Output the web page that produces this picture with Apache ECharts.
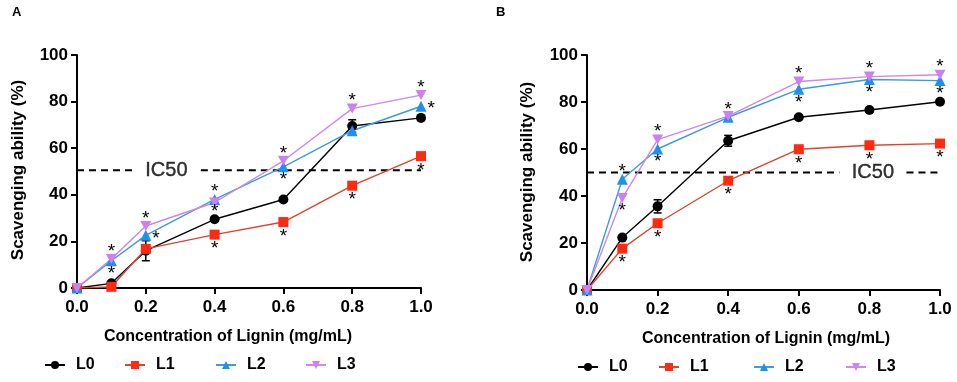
<!DOCTYPE html>
<html>
<head>
<meta charset="utf-8">
<script src="https://cdn.jsdelivr.net/npm/echarts@6/dist/echarts.min.js"></script>
<style>
html,body{margin:0;padding:0;background:#fff;}
#chart{width:957px;height:382px;}
</style>
</head>
<body>
<div id="chart"></div>
<script>
// ---- data ----
const concentrations = [0, 0.1, 0.2, 0.4, 0.6, 0.8, 1.0];
const xTicks = ['0.0', '0.2', '0.4', '0.6', '0.8', '1.0'];
const seriesNames = ['L0', 'L1', 'L2', 'L3'];

// Panel A
const A_L0 = [0, 2.0, 16.0, 29.5, 38.0, 69.5, 73.0];
const A_L1 = [0, 0.5, 16.8, 22.9, 28.3, 43.9, 56.6];
const A_L2 = [0, 11.7, 22.6, 38.0, 52.0, 67.5, 78.0];
const A_L3 = [0, 12.5, 26.6, 36.7, 54.6, 77.0, 82.8];
const A_L0_err = [0, 0.6, 4.3, 0.8, 0.8, 2.7, 0.5];
const A_L1_err = [0, 0, 1.5, 0.8, 1.5, 0.8, 0.5];
const A_stars_L0 = ['', '', '', 'top', '', '', ''];
const A_stars_L1 = ['', '', '', 'bottom', 'bottom', 'bottom', 'bottom'];
const A_stars_L2 = ['', 'bottom', 'right', 'top', 'bottom', '', 'right'];
const A_stars_L3 = ['', 'top', 'top', '', 'top', 'top', 'top'];
const A_ic50 = 50.5;

// Panel B
const B_L0 = [0, 22.3, 35.6, 63.5, 73.5, 76.6, 80.1];
const B_L1 = [0, 17.6, 28.4, 46.5, 59.9, 61.6, 62.3];
const B_L2 = [0, 47.1, 60.0, 73.5, 85.4, 89.6, 89.1];
const B_L3 = [0, 39.1, 64.0, 74.0, 88.7, 90.8, 91.6];
const B_L0_err = [0, 0.8, 2.8, 2.3, 0.8, 0.8, 0.8];
const B_L1_err = [0, 0.8, 0.8, 0.8, 0.8, 0.5, 0.5];
const B_stars_L0 = ['', '', '', '', '', '', ''];
const B_stars_L1 = ['', 'bottom', 'bottom', 'bottom', 'bottom', 'bottom', 'bottom'];
const B_stars_L2 = ['', 'top', 'bottom', 'top', 'bottom', 'bottom', 'bottom'];
const B_stars_L3 = ['', 'bottom', 'top', '', 'top', 'top', 'top'];
const B_ic50 = 50;

// ---- styles ----
const colors = {
  L0: {line: '#000000', mark: '#000000', symbol: 'circle', size: 10},
  L1: {line: '#e0432c', mark: '#ff2a10', symbol: 'rect', size: 10},
  L2: {line: '#3a9be0', mark: '#1e90f0', symbol: 'triangle', size: 11},
  L3: {line: '#cc88ee', mark: '#cc80f2', symbol: 'path://M0,0 L10,0 L5,9 Z', size: 11}
};
const FONT = 'Liberation Sans, Arial, sans-serif';

function starLabel(pos, big) {
  if (!pos) return {show: false};
  const base = {show: true, formatter: '*', color: '#000', fontSize: 19, fontFamily: FONT, fontWeight: 'normal'};
  if (pos === 'top') return Object.assign(base, {position: 'top', distance: -7});
  if (pos === 'bottom') return Object.assign(base, {position: 'bottom', distance: big ? 0 : -2});
  if (pos === 'right') return Object.assign(base, {position: 'right', distance: 1, offset: [0, 3]});
  return {show: false};
}

function lineSeries(name, vals, stars, idx) {
  const c = colors[name];
  return {
    type: 'line', name: name, xAxisIndex: idx, yAxisIndex: idx,
    symbol: c.symbol, symbolSize: c.symbol === 'rect' ? 10 : (name === 'L3' ? [11, 10] : c.size),
    lineStyle: {color: c.line, width: 1.4},
    itemStyle: {color: c.mark, borderWidth: 0},
    z: 3,
    data: vals.map((v, i) => ({value: [concentrations[i], v], label: starLabel(stars[i], name === 'L1')})),
    animation: false
  };
}

function errSeries(vals, errs, idx, color) {
  return {
    type: 'custom', xAxisIndex: idx, yAxisIndex: idx, z: 2, silent: true, animation: false,
    data: vals.map((v, i) => [concentrations[i], v, errs[i]]),
    renderItem: function (params, api) {
      const x = api.value(0), y = api.value(1), e = api.value(2);
      if (!e) return;
      const top = api.coord([x, y + e]);
      const bot = api.coord([x, y - e]);
      const w = 4;
      return {
        type: 'group',
        children: [
          {type: 'line', shape: {x1: top[0], y1: top[1], x2: bot[0], y2: bot[1]}, style: {stroke: color, lineWidth: 1.5}},
          {type: 'line', shape: {x1: top[0] - w, y1: top[1], x2: top[0] + w, y2: top[1]}, style: {stroke: color, lineWidth: 1.5}},
          {type: 'line', shape: {x1: bot[0] - w, y1: bot[1], x2: bot[0] + w, y2: bot[1]}, style: {stroke: color, lineWidth: 1.5}}
        ]
      };
    }
  };
}

function ic50Series(idx, y, gapStart, gapEnd, textX) {
  return [{
    type: 'line', xAxisIndex: idx, yAxisIndex: idx, symbol: 'none', silent: true, animation: false,
    lineStyle: {color: '#000', width: 2, type: [7, 5]}, z: 1,
    data: [[0, y], [gapStart, y], null, [gapEnd, y], [1.0, y]],
    connectNulls: false
  }, {
    type: 'scatter', xAxisIndex: idx, yAxisIndex: idx, symbolSize: 0, silent: true, animation: false,
    data: [[textX, y]],
    label: {show: true, position: 'inside', formatter: 'IC50', color: '#000', fontSize: 20, fontFamily: FONT,
      textBorderColor: '#000', textBorderWidth: 0.4}
  }];
}

function xAxis(idx) {
  return {
    type: 'value', gridIndex: idx, min: 0, max: 1.0, interval: 0.2,
    axisLine: {show: true, lineStyle: {color: '#000', width: 2}},
    axisTick: {show: true, length: 6, lineStyle: {color: '#000', width: 2}},
    splitLine: {show: false},
    axisLabel: {margin: 11, color: '#000', fontSize: 17, fontWeight: 'bold', fontFamily: FONT,
      formatter: v => xTicks[Math.round(v / 0.2)]}
  };
}
function yAxis(idx) {
  return {
    type: 'value', gridIndex: idx, min: 0, max: 100, interval: 20,
    axisLine: {show: true, lineStyle: {color: '#000', width: 2}},
    axisTick: {show: true, length: 6, lineStyle: {color: '#000', width: 2}},
    splitLine: {show: false},
    axisLabel: {margin: 9, color: '#000', fontSize: 17, fontWeight: 'bold', fontFamily: FONT}
  };
}

function legendItem(name, left, top) {
  return {
    data: [name], left: left, top: top, itemWidth: 20, itemHeight: 10, itemGap: 0, padding: 0,
    selectedMode: false,
    textStyle: {color: '#000', fontSize: 16, fontWeight: 'bold', fontFamily: FONT, padding: [0, 0, 0, 6]}
  };
}

const chart = echarts.init(document.getElementById('chart'), null, {renderer: 'canvas'});
const option = {
  backgroundColor: '#fff',
  animation: false,
  grid: [
    {left: 77, top: 55, width: 344, height: 233},
    {left: 587, top: 55, width: 353, height: 235}
  ],
  xAxis: [xAxis(0), xAxis(1)],
  yAxis: [yAxis(0), yAxis(1)],
  legend: [
    legendItem('L0', 44, 357), legendItem('L1', 124, 357), legendItem('L2', 215, 357), legendItem('L3', 305, 357),
    legendItem('L0', 577, 359), legendItem('L1', 658, 359), legendItem('L2', 753, 359), legendItem('L3', 845, 359)
  ],
  graphic: [
    {type: 'text', left: 12, top: 6, style: {text: 'A', font: 'bold 13px ' + FONT, fill: '#000'}},
    {type: 'text', left: 496, top: 6, style: {text: 'B', font: 'bold 13px ' + FONT, fill: '#000'}},
    {type: 'text', x: 18, y: 170, rotation: Math.PI / 2, style: {text: 'Scavenging ability (%)', font: 'bold 17px ' + FONT, fill: '#000', align: 'center', verticalAlign: 'middle'}},
    {type: 'text', x: 527, y: 172, rotation: Math.PI / 2, style: {text: 'Scavenging ability (%)', font: 'bold 17px ' + FONT, fill: '#000', align: 'center', verticalAlign: 'middle'}},
    {type: 'text', x: 228, y: 337, style: {text: 'Concentration of Lignin (mg/mL)', font: 'bold 16px ' + FONT, fill: '#000', align: 'center', verticalAlign: 'middle'}},
    {type: 'text', x: 766, y: 339, style: {text: 'Concentration of Lignin (mg/mL)', font: 'bold 16px ' + FONT, fill: '#000', align: 'center', verticalAlign: 'middle'}}
  ],
  series: [
    ...ic50Series(0, A_ic50, 0.16, 0.36, 0.26),
    ...ic50Series(1, B_ic50, 0.715, 0.905, 0.81),
    errSeries(A_L0, A_L0_err, 0, '#000'),
    errSeries(A_L1, A_L1_err, 0, '#e0432c'),
    errSeries(B_L0, B_L0_err, 1, '#000'),
    errSeries(B_L1, B_L1_err, 1, '#e0432c'),
    lineSeries('L0', A_L0, A_stars_L0, 0),
    lineSeries('L1', A_L1, A_stars_L1, 0),
    lineSeries('L2', A_L2, A_stars_L2, 0),
    lineSeries('L3', A_L3, A_stars_L3, 0),
    lineSeries('L0', B_L0, B_stars_L0, 1),
    lineSeries('L1', B_L1, B_stars_L1, 1),
    lineSeries('L2', B_L2, B_stars_L2, 1),
    lineSeries('L3', B_L3, B_stars_L3, 1)
  ]
};
chart.setOption(option);
</script>
</body>
</html>
